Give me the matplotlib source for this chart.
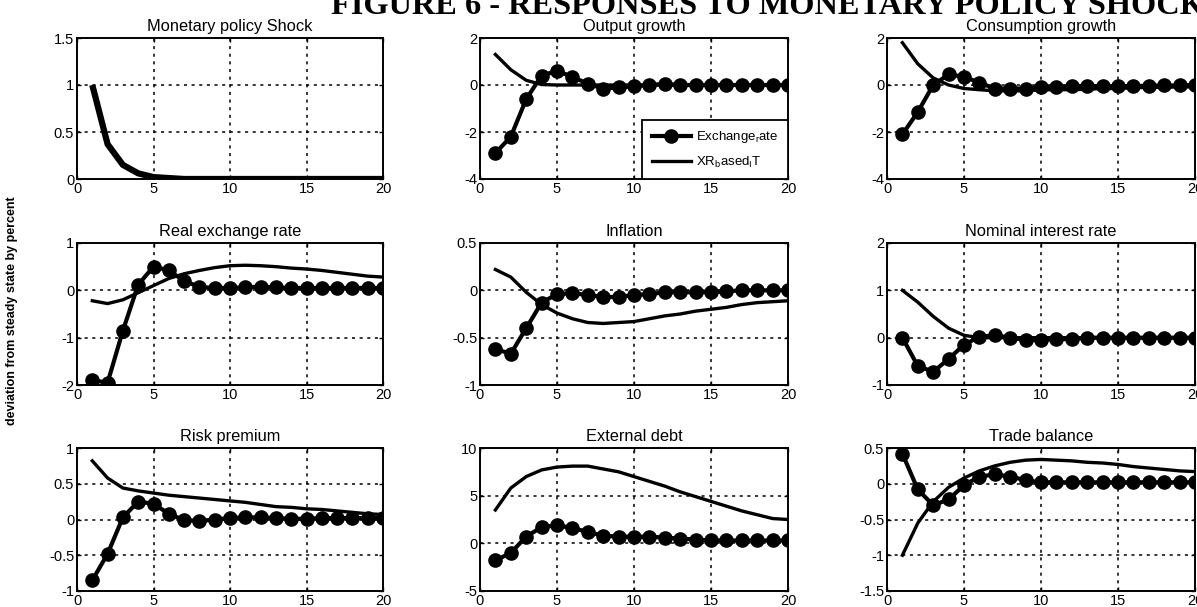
import matplotlib
matplotlib.use("Agg")
import matplotlib.pyplot as plt
import numpy as np

plt.rcParams['font.family'] = ['Liberation Sans', 'DejaVu Sans']
plt.rcParams['mathtext.default'] = 'regular'

periods = list(range(1, 21))

titles = ["Monetary policy Shock", "Output growth", "Consumption growth",
          "Real exchange rate", "Inflation", "Nominal interest rate",
          "Risk premium", "External debt", "Trade balance"]

ylims = [(0, 1.5), (-4, 2), (-4, 2), (-2, 1), (-1, 0.5), (-1, 2), (-1, 1), (-5, 10), (-1.5, 0.5)]
yticks = [[0, 0.5, 1, 1.5], [-4, -2, 0, 2], [-4, -2, 0, 2], [-2, -1, 0, 1],
          [-1, -0.5, 0, 0.5], [-1, 0, 1, 2], [-1, -0.5, 0, 0.5, 1], [-5, 0, 5, 10],
          [-1.5, -1, -0.5, 0, 0.5]]
ytick_labels = [["0", "0.5", "1", "1.5"], ["-4", "-2", "0", "2"], ["-4", "-2", "0", "2"],
                ["-2", "-1", "0", "1"], ["-1", "-0.5", "0", "0.5"], ["-1", "0", "1", "2"],
                ["-1", "-0.5", "0", "0.5", "1"], ["-5", "0", "5", "10"],
                ["-1.5", "-1", "-0.5", "0", "0.5"]]
xticks = [0, 5, 10, 15, 20]

# Exchange_rate regime (line with circle markers)
shock = [1.0, 0.37, 0.15, 0.06, 0.02, 0.01, 0.0, 0.0, 0.0, 0.0, 0.0, 0.0, 0.0, 0.0, 0.0, 0.0, 0.0, 0.0, 0.0, 0.0]
er_output = [-2.9, -2.2, -0.6, 0.4, 0.6, 0.35, 0.05, -0.15, -0.1, -0.05, 0.0, 0.05, 0.0, 0.0, 0.0, 0.0, 0.0, 0.0, 0.0, 0.0]
er_cons = [-2.1, -1.15, 0.0, 0.45, 0.35, 0.1, -0.15, -0.15, -0.15, -0.1, -0.1, -0.05, -0.05, -0.05, -0.05, -0.05, -0.03, -0.02, -0.02, 0.0]
er_rer = [-1.9, -1.95, -0.85, 0.12, 0.5, 0.42, 0.2, 0.07, 0.05, 0.05, 0.06, 0.08, 0.06, 0.05, 0.05, 0.05, 0.05, 0.05, 0.05, 0.05]
er_infl = [-0.62, -0.67, -0.4, -0.13, -0.04, -0.03, -0.05, -0.07, -0.07, -0.05, -0.04, -0.02, -0.02, -0.02, -0.02, -0.01, 0.0, 0.0, 0.0, 0.0]
er_rate = [0.0, -0.6, -0.72, -0.45, -0.15, 0.02, 0.05, 0.0, -0.05, -0.05, -0.03, -0.03, 0.0, 0.0, 0.0, 0.0, 0.0, 0.0, 0.0, 0.0]
er_risk = [-0.85, -0.48, 0.03, 0.25, 0.22, 0.08, -0.01, -0.02, 0.0, 0.02, 0.03, 0.03, 0.02, 0.01, 0.01, 0.02, 0.02, 0.02, 0.02, 0.02]
er_debt = [-1.8, -1.0, 0.7, 1.7, 1.9, 1.6, 1.2, 0.8, 0.7, 0.7, 0.7, 0.6, 0.5, 0.4, 0.3, 0.3, 0.3, 0.3, 0.3, 0.3]
er_tb = [0.42, -0.08, -0.3, -0.22, -0.02, 0.1, 0.13, 0.1, 0.05, 0.02, 0.02, 0.02, 0.02, 0.02, 0.02, 0.02, 0.02, 0.02, 0.02, 0.02]

# XR_based_IT regime (solid line)
it_output = [1.3, 0.65, 0.2, 0.02, 0.0, 0.0, 0.0, 0.0, 0.0, 0.0, 0.0, 0.0, 0.0, 0.0, 0.0, 0.0, 0.0, 0.0, 0.0, 0.0]
it_cons = [1.8, 0.9, 0.3, 0.0, -0.15, -0.2, -0.25, -0.25, -0.25, -0.2, -0.2, -0.2, -0.18, -0.15, -0.15, -0.12, -0.1, -0.1, -0.08, -0.08]
it_rer = [-0.22, -0.28, -0.2, -0.05, 0.1, 0.25, 0.35, 0.42, 0.48, 0.52, 0.53, 0.52, 0.5, 0.47, 0.45, 0.42, 0.38, 0.34, 0.3, 0.28]
it_infl = [0.22, 0.14, -0.02, -0.15, -0.24, -0.3, -0.34, -0.35, -0.34, -0.33, -0.3, -0.27, -0.25, -0.22, -0.2, -0.18, -0.15, -0.13, -0.12, -0.11]
it_rate = [1.0, 0.75, 0.45, 0.2, 0.05, 0.0, 0.0, 0.0, 0.0, 0.0, 0.0, 0.0, 0.0, 0.0, 0.0, 0.0, 0.0, 0.0, 0.0, 0.0]
it_risk = [0.82, 0.58, 0.44, 0.4, 0.37, 0.34, 0.32, 0.3, 0.28, 0.26, 0.24, 0.21, 0.18, 0.17, 0.15, 0.14, 0.12, 0.1, 0.08, 0.07]
it_debt = [3.5, 5.8, 7.0, 7.7, 8.0, 8.1, 8.1, 7.8, 7.5, 7.0, 6.5, 6.0, 5.4, 4.9, 4.4, 3.9, 3.4, 3.0, 2.6, 2.5]
it_tb = [-1.0, -0.55, -0.25, -0.05, 0.08, 0.18, 0.25, 0.3, 0.33, 0.34, 0.33, 0.32, 0.3, 0.29, 0.27, 0.24, 0.22, 0.2, 0.18, 0.17]

er_series = [None, er_output, er_cons, er_rer, er_infl, er_rate, er_risk, er_debt, er_tb]
it_series = [None, it_output, it_cons, it_rer, it_infl, it_rate, it_risk, it_debt, it_tb]

fig = plt.figure(figsize=(11.97, 6.07), dpi=100)
W, H = 1197.0, 607.0
cols = [(77, 383), (480, 788), (887, 1195)]
rows = [(38, 179), (243, 385), (448, 591)]

for i in range(9):
    r, c = divmod(i, 3)
    x0, x1 = cols[c]
    y0, y1 = rows[r]
    ax = fig.add_axes([x0 / W, 1 - y1 / H, (x1 - x0) / W, (y1 - y0) / H])
    if i == 0:
        ax.plot(periods, shock, color='black', lw=4.5, solid_capstyle='butt')
    else:
        ax.plot(periods, er_series[i], color='black', lw=3.0, marker='o',
                markersize=9.5, label=r'Exchange$_r$ate')
        ax.plot(periods, it_series[i], color='black', lw=2.4, label=r'XR$_b$ased$_I$T')
        if i == 1:
            leg = ax.legend(loc='lower right', borderaxespad=0.0, fancybox=False,
                            edgecolor='black', framealpha=1, fontsize=9.5,
                            handlelength=3.0, borderpad=0.7, labelspacing=0.7,
                            handletextpad=0.4)
            leg.get_frame().set_linewidth(1.3)
    ax.set_xlim(0, 20)
    ax.set_ylim(*ylims[i])
    ax.set_xticks(xticks)
    ax.set_xticklabels([str(t) for t in xticks])
    ax.set_yticks(yticks[i])
    ax.set_yticklabels(ytick_labels[i])
    ax.grid(True, color='black', linestyle=(0, (2, 3)), linewidth=1.1)
    ax.tick_params(direction='in', length=3, width=1, top=True, right=True,
                   labelsize=10.5, pad=2)
    for s in ax.spines.values():
        s.set_linewidth(1.4)
    ax.set_title(titles[i], fontsize=11.8, pad=5)

fig.text(331 / W, 1 - 14 / H, "FIGURE 6 - RESPONSES TO MONETARY POLICY SHOCK",
         family=['Liberation Serif', 'DejaVu Serif'], weight='bold', fontsize=23.3,
         ha='left', va='baseline')
fig.text(12 / W, 1 - 311 / H, "deviation from steady state by percent",
         rotation=90, fontsize=9.0, weight='bold', ha='center', va='center')

fig.savefig("out.png", dpi=100)
